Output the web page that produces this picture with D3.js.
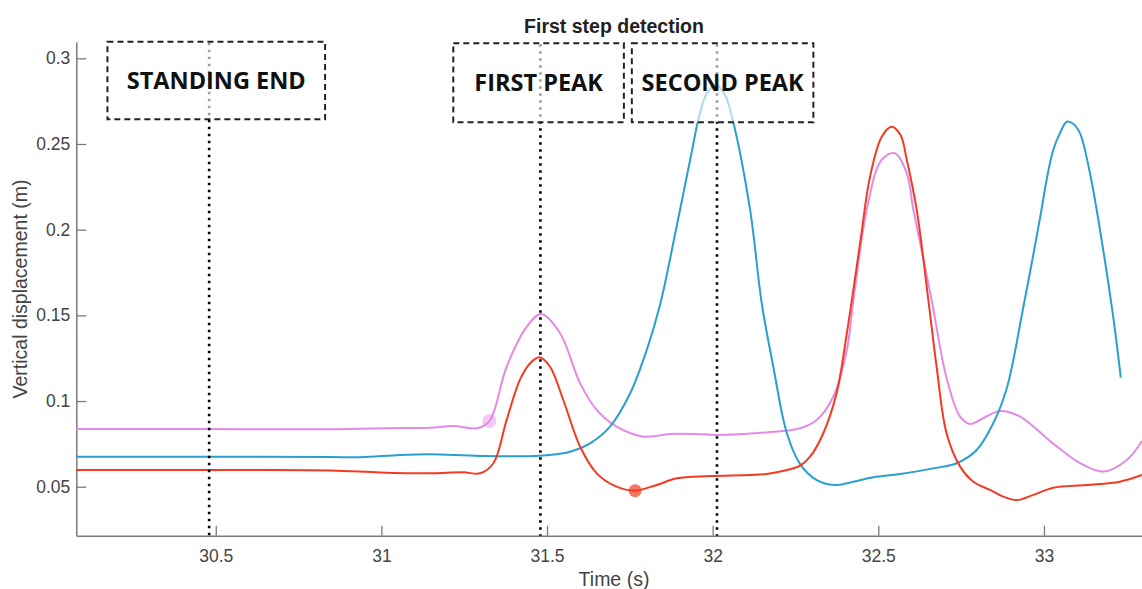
<!DOCTYPE html>
<html>
<head>
<meta charset="utf-8">
<script src="https://cdn.jsdelivr.net/npm/d3@7"></script>
<style>
  html, body { margin: 0; padding: 0; background: #fff; }
  svg { display: block; }
</style>
</head>
<body>
<svg id="chart" width="1142" height="589"></svg>
<script>
// Vertical displacement traces around the first step (time in s, displacement in m)
const blueT = [30.078, 30.453, 30.845, 30.936, 31.056, 31.147, 31.298, 31.479, 31.570, 31.630, 31.690, 31.751, 31.801, 31.841, 31.891, 31.942, 31.955, 31.981, 32.009, 32.036, 32.062, 32.113, 32.148, 32.183, 32.224, 32.264, 32.314, 32.374, 32.425, 32.485, 32.566, 32.666, 32.737, 32.797, 32.847, 32.888, 32.938, 32.989, 33.008, 33.028, 33.048, 33.069, 33.089, 33.109, 33.139, 33.179, 33.209, 33.232];
const blueV = [0.0675, 0.0675, 0.0673, 0.0672, 0.0685, 0.0689, 0.0679, 0.0681, 0.0704, 0.0753, 0.0850, 0.1045, 0.1298, 0.1560, 0.2017, 0.2504, 0.2628, 0.2791, 0.2844, 0.2791, 0.2628, 0.2115, 0.1572, 0.1200, 0.0812, 0.0632, 0.0539, 0.0510, 0.0529, 0.0555, 0.0574, 0.0607, 0.0637, 0.0714, 0.0870, 0.1076, 0.1550, 0.2076, 0.2290, 0.2465, 0.2562, 0.2630, 0.2617, 0.2562, 0.2329, 0.1881, 0.1492, 0.1137];

const redT = [30.078, 30.453, 30.845, 30.996, 31.147, 31.247, 31.298, 31.338, 31.378, 31.418, 31.449, 31.477, 31.509, 31.549, 31.600, 31.650, 31.710, 31.766, 31.831, 31.892, 31.992, 32.163, 32.224, 32.264, 32.294, 32.334, 32.374, 32.405, 32.445, 32.475, 32.510, 32.540, 32.567, 32.586, 32.616, 32.651, 32.676, 32.706, 32.747, 32.787, 32.837, 32.877, 32.918, 32.968, 33.028, 33.129, 33.229, 33.296];
const redV = [0.0597, 0.0597, 0.0595, 0.0583, 0.0578, 0.0584, 0.0578, 0.0637, 0.0889, 0.1123, 0.1220, 0.1255, 0.1200, 0.1006, 0.0733, 0.0578, 0.0500, 0.0477, 0.0510, 0.0549, 0.0562, 0.0574, 0.0597, 0.0623, 0.0675, 0.0812, 0.1045, 0.1395, 0.1920, 0.2309, 0.2541, 0.2601, 0.2552, 0.2407, 0.2115, 0.1590, 0.1200, 0.0812, 0.0617, 0.0529, 0.0481, 0.0442, 0.0422, 0.0452, 0.0494, 0.0510, 0.0529, 0.0568];

const pinkT = [30.078, 30.453, 30.845, 31.056, 31.147, 31.217, 31.288, 31.326, 31.378, 31.439, 31.482, 31.539, 31.600, 31.650, 31.710, 31.791, 31.871, 31.962, 32.012, 32.163, 32.264, 32.314, 32.364, 32.405, 32.425, 32.465, 32.510, 32.550, 32.586, 32.606, 32.661, 32.706, 32.747, 32.777, 32.807, 32.867, 32.928, 33.027, 33.109, 33.179, 33.250, 33.296];
const pinkV = [0.0837, 0.0837, 0.0835, 0.0843, 0.0844, 0.0854, 0.0841, 0.0883, 0.1200, 0.1434, 0.1508, 0.1397, 0.1103, 0.0948, 0.0850, 0.0792, 0.0808, 0.0806, 0.0802, 0.0817, 0.0841, 0.0889, 0.1025, 0.1298, 0.1590, 0.2115, 0.2407, 0.2446, 0.2329, 0.2115, 0.1590, 0.1134, 0.0909, 0.0866, 0.0889, 0.0942, 0.0909, 0.0753, 0.0637, 0.0588, 0.0656, 0.0767];

// Detected points
const pinkPointT = [31.326];
const pinkPointV = [0.0883];
const redPointT = [31.766];
const redPointV = [0.0477];

// Event markers and their labels
const eventLabels = ["STANDING END", "FIRST PEAK", "SECOND PEAK"];
const eventTimes = [30.48, 31.48, 32.013];
const boxStart = [30.173, 31.217, 31.756];
const boxEnd = [30.830, 31.732, 32.304];
const boxTop = [0.3097, 0.3088, 0.3088];
const boxBottom = [0.2644, 0.2627, 0.2627];

// Axis ticks
const xTicks = [30.5, 31, 31.5, 32, 32.5, 33];
const yTicks = [0.05, 0.1, 0.15, 0.2, 0.25, 0.3];

const svg = d3.select("#chart");
const plotLeft = 76.3, plotRight = 1142, plotTop = 41.7, plotBottom = 535.7;

const x = d3.scaleLinear().domain([30.079, 33.296]).range([plotLeft, plotRight]);
const y = d3.scaleLinear().domain([0.0214, 0.3097]).range([plotBottom, plotTop]);

svg.append("defs").append("clipPath").attr("id", "plot-clip")
  .append("rect").attr("x", plotLeft).attr("y", plotTop - 2)
  .attr("width", plotRight - plotLeft).attr("height", plotBottom - plotTop + 2);

// Axes
const axisColor = "#7a7a7a";
const xAxis = svg.append("g").attr("transform", `translate(0,${plotBottom})`)
  .call(d3.axisBottom(x).tickValues(xTicks).tickSizeInner(-10).tickSizeOuter(0).tickPadding(14).tickFormat(d3.format("")));
const yAxis = svg.append("g").attr("transform", `translate(${plotLeft},0)`)
  .call(d3.axisLeft(y).tickValues(yTicks).tickSizeInner(-10).tickSizeOuter(0).tickPadding(6).tickFormat(d3.format("")));
[xAxis, yAxis].forEach(g => {
  g.select(".domain").attr("stroke", axisColor).attr("stroke-width", 1.5);
  g.selectAll(".tick line").attr("stroke", axisColor).attr("stroke-width", 1.3);
  g.selectAll(".tick text").attr("fill", "#444").style("font-family", "'Liberation Sans', Arial, sans-serif").style("font-size", "17.5px");
});

// Traces
const plot = svg.append("g").attr("clip-path", "url(#plot-clip)");
const line = d3.line().x(d => x(d[0])).y(d => y(d[1])).curve(d3.curveCatmullRom.alpha(0.5));
const series = [
  { t: pinkT, v: pinkV, color: "#e38ae6" },
  { t: blueT, v: blueV, color: "#2a9fcf" },
  { t: redT, v: redV, color: "#f53a22" }
];
series.forEach(s => {
  plot.append("path")
    .datum(d3.zip(s.t, s.v))
    .attr("fill", "none")
    .attr("stroke", s.color)
    .attr("stroke-width", 2)
    .attr("d", line);
});

// Detected points
plot.selectAll(".pink-pt").data(d3.zip(pinkPointT, pinkPointV)).join("circle")
  .attr("cx", d => x(d[0])).attr("cy", d => y(d[1])).attr("r", 7)
  .attr("fill", "#e38ae6").attr("fill-opacity", 0.45);
plot.selectAll(".red-pt").data(d3.zip(redPointT, redPointV)).join("circle")
  .attr("cx", d => x(d[0])).attr("cy", d => y(d[1])).attr("r", 6.5)
  .attr("fill", "#f53a22").attr("fill-opacity", 0.7);

// Event lines
svg.selectAll(".event").data(eventTimes).join("line")
  .attr("x1", d => x(d)).attr("x2", d => x(d))
  .attr("y1", (d, i) => y(boxTop[i]) + 1).attr("y2", plotBottom)
  .attr("stroke", "#000").attr("stroke-width", 2.6)
  .attr("stroke-dasharray", "2.6,4.4");

// Label boxes
const boxes = svg.selectAll(".label-box").data(eventLabels).join("g");
boxes.append("rect")
  .attr("x", (d, i) => x(boxStart[i]))
  .attr("y", (d, i) => y(boxTop[i]))
  .attr("width", (d, i) => x(boxEnd[i]) - x(boxStart[i]))
  .attr("height", (d, i) => y(boxBottom[i]) - y(boxTop[i]))
  .attr("fill", "#fff").attr("fill-opacity", 0.62)
  .attr("stroke", "#222").attr("stroke-width", 2)
  .attr("stroke-dasharray", "6,4");
boxes.append("text")
  .attr("x", (d, i) => (x(boxStart[i]) + x(boxEnd[i])) / 2)
  .attr("y", (d, i) => (y(boxTop[i]) + y(boxBottom[i])) / 2 - 1)
  .attr("text-anchor", "middle").attr("dominant-baseline", "central")
  .style("font-family", "'Open Sans', sans-serif").style("font-weight", 700).style("font-size", "23.5px")
  .attr("fill", "#111")
  .text(d => d);

// Titles
svg.append("text").attr("x", 614).attr("y", 32.5).attr("text-anchor", "middle")
  .style("font-family", "'Liberation Sans', Arial, sans-serif").style("font-weight", 700).style("font-size", "19.5px")
  .attr("fill", "#222").text("First step detection");
svg.append("text").attr("x", 614).attr("y", 586).attr("text-anchor", "middle")
  .style("font-family", "'Liberation Sans', Arial, sans-serif").style("font-size", "19.5px")
  .attr("fill", "#444").text("Time (s)");
svg.append("text").attr("transform", "translate(27,289) rotate(-90)").attr("text-anchor", "middle")
  .style("font-family", "'Liberation Sans', Arial, sans-serif").style("font-size", "19.5px")
  .attr("fill", "#444").text("Vertical displacement (m)");
</script>
</body>
</html>
